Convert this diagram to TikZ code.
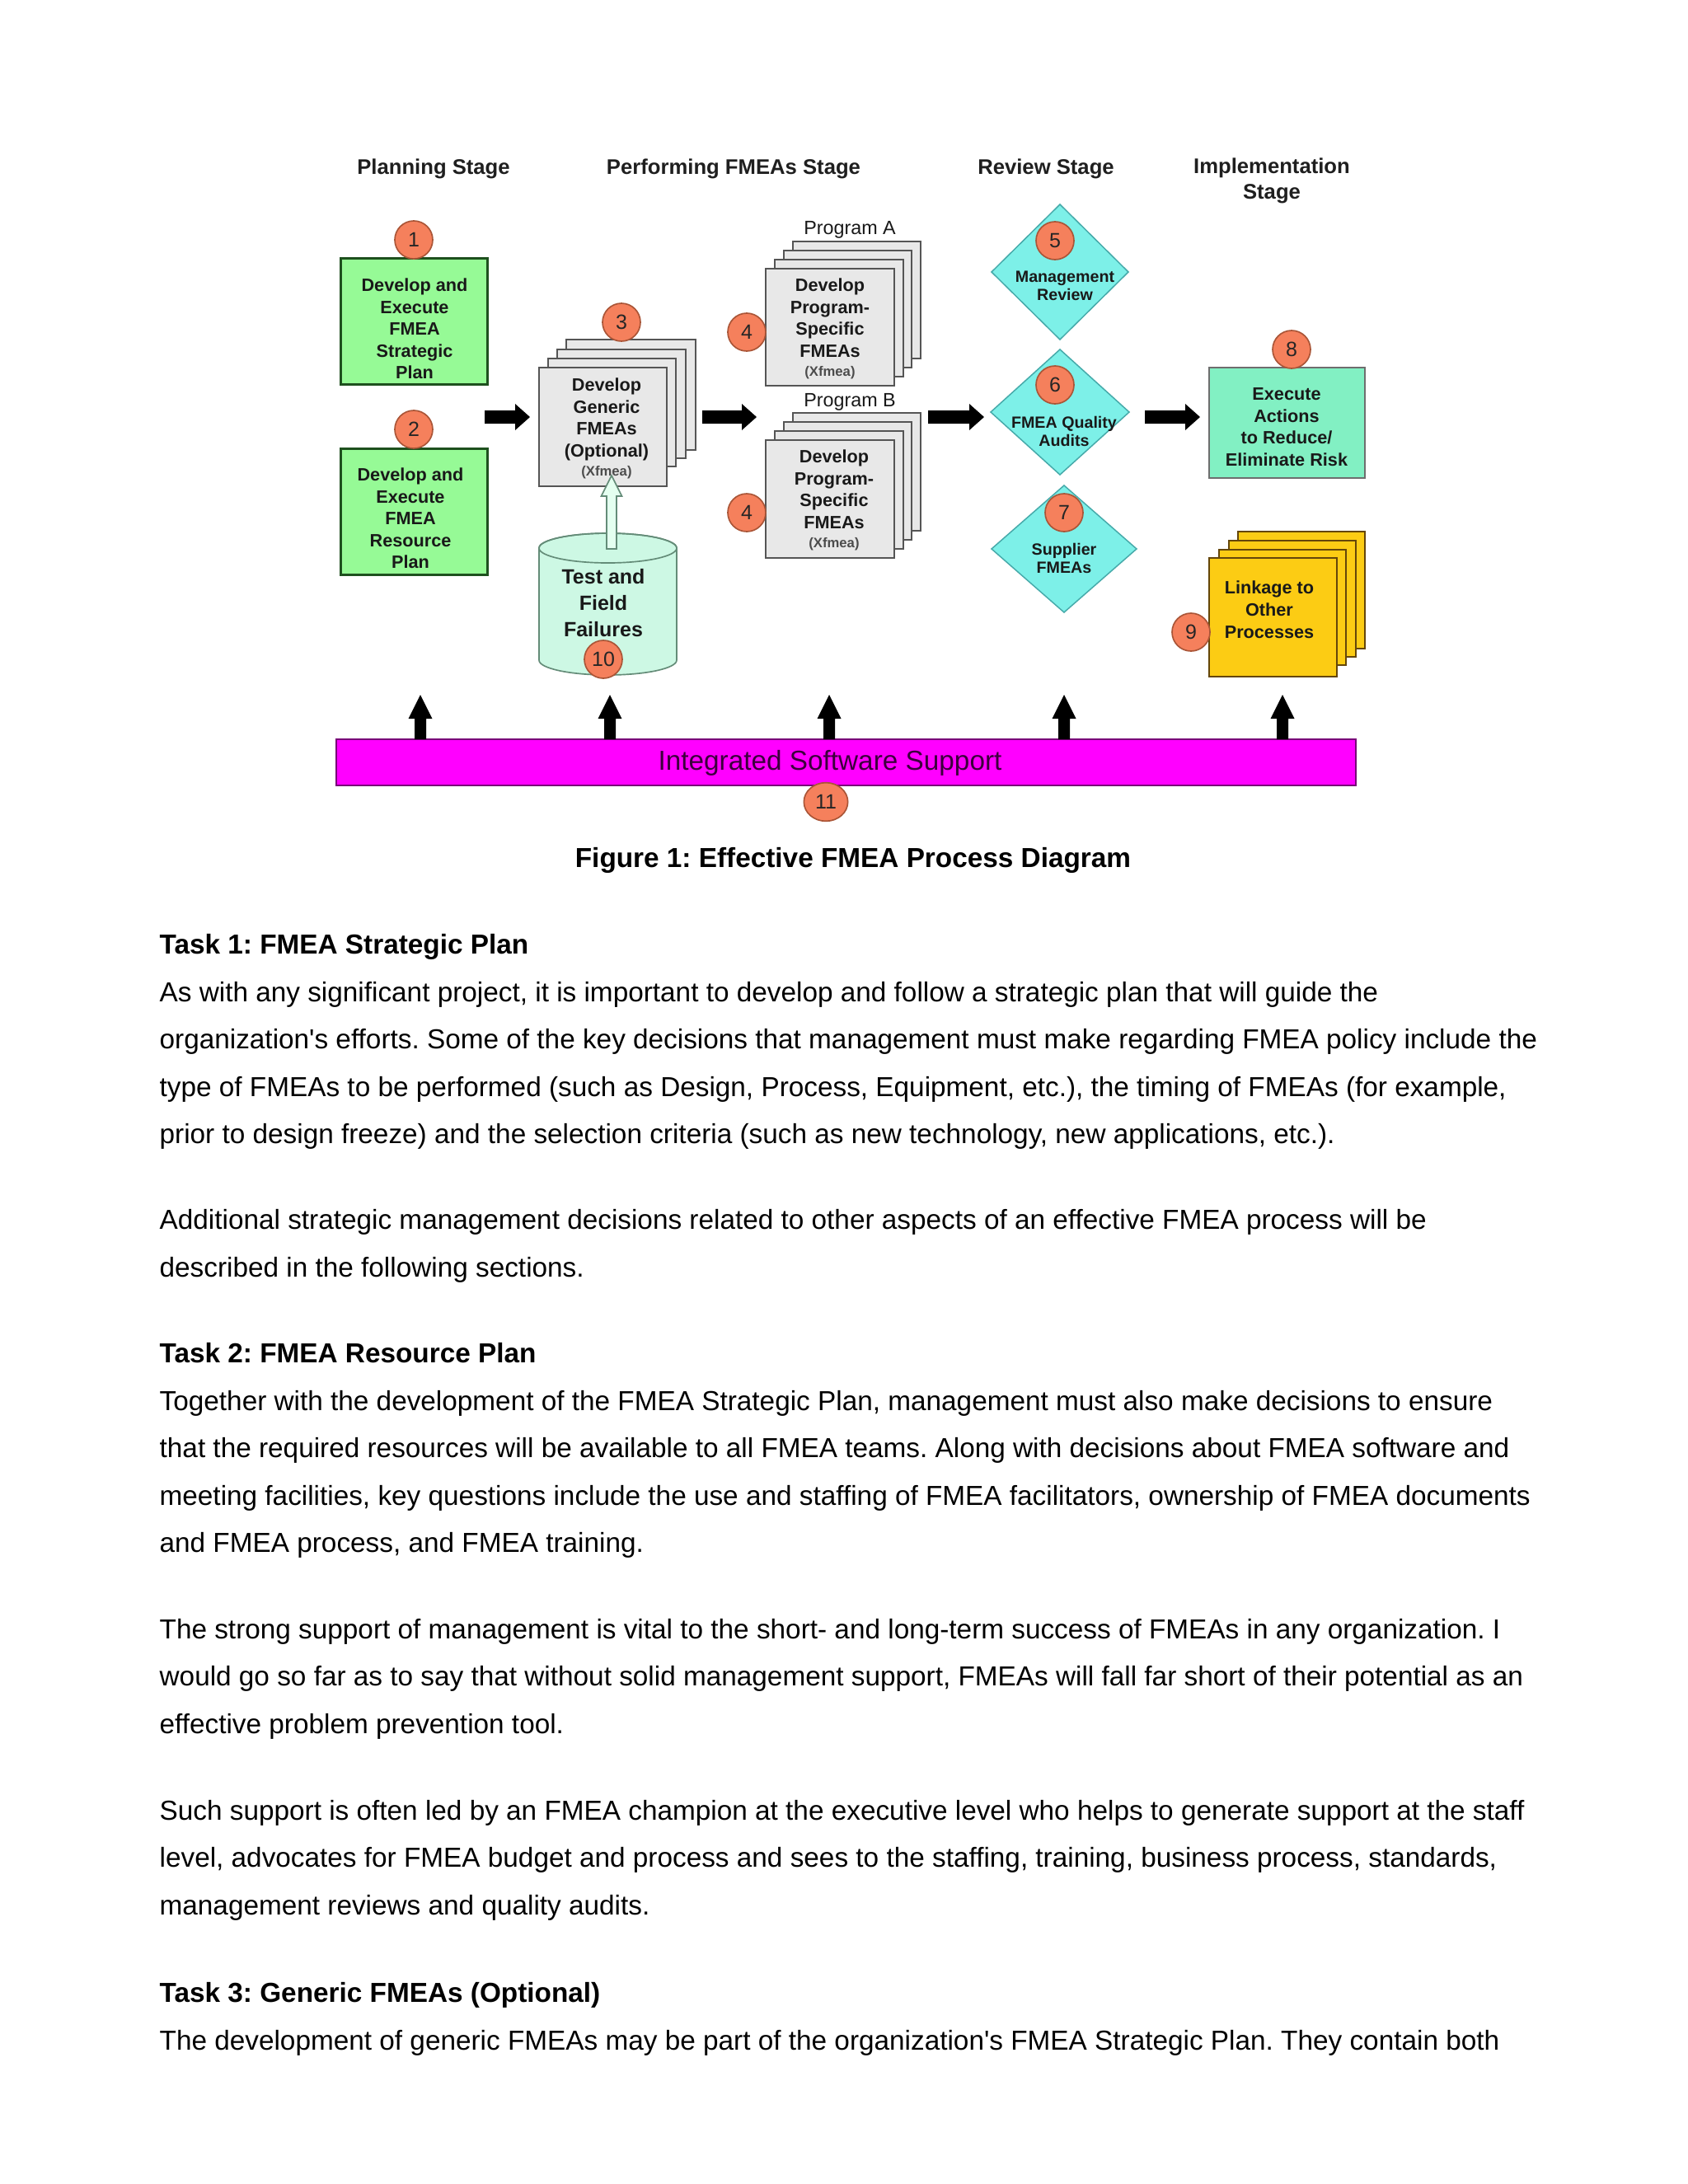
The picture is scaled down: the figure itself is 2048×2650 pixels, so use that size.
\documentclass[tikz,border=0pt]{standalone}
\usepackage{fontspec}
\setmainfont{Liberation Sans}[Ligatures=TeXOff]
\usetikzlibrary{calc,shapes.geometric}
\frenchspacing
\definecolor{gfill}{RGB}{150,250,150}
\definecolor{gdraw}{RGB}{30,80,30}
\definecolor{sfill}{RGB}{232,232,232}
\definecolor{sdraw}{RGB}{85,85,85}
\definecolor{cfill}{RGB}{245,128,92}
\definecolor{cdraw}{RGB}{170,85,55}
\definecolor{dfill}{RGB}{125,240,232}
\definecolor{ddraw}{RGB}{70,170,170}
\definecolor{mfill}{RGB}{130,240,195}
\definecolor{mdraw}{RGB}{110,110,110}
\definecolor{cylfill}{RGB}{205,248,228}
\definecolor{cyldraw}{RGB}{100,140,120}
\definecolor{hafill}{RGB}{228,255,240}
\definecolor{yfill}{RGB}{252,204,20}
\definecolor{ydraw}{RGB}{100,70,10}
\definecolor{barfill}{RGB}{255,0,255}
\definecolor{bardraw}{RGB}{120,0,120}
\definecolor{bartext}{RGB}{60,0,60}
\newcommand\fmeaHarrow[2]{\fill[black] ($(#1)+(0,-8)$) -- ($(#2)+(-18,-8)$) -- ($(#2)+(-18,-16)$) -- (#2) -- ($(#2)+(-18,16)$) -- ($(#2)+(-18,8)$) -- ($(#1)+(0,8)$) -- cycle;}
\newcommand\fmeaUarrow[2]{\fill[black] ($(#1)+(-7,0)$) -- ($(#2)+(-7,29)$) -- ($(#2)+(-14.5,29)$) -- (#2) -- ($(#2)+(14.5,29)$) -- ($(#2)+(7,29)$) -- ($(#1)+(7,0)$) -- cycle;}
\newcommand\fmeaHollow[2]{\filldraw[fill=hafill, draw=cyldraw, line width=0.5pt] ($(#1)+(-6,0)$) -- ($(#2)+(-6,25)$) -- ($(#2)+(-12.5,25)$) -- (#2) -- ($(#2)+(12.5,25)$) -- ($(#2)+(6,25)$) -- ($(#1)+(6,0)$) -- cycle;}
\newcommand\fmXf{\bfseries\fontsize{5}{6}\selectfont\color{black!70}}
\begin{document}
\begin{tikzpicture}[x=0.3pt,y=-0.3pt,
  fmGBox/.style={draw=gdraw, fill=gfill, line width=0.9pt, inner sep=0, outer sep=0, minimum width=53.4pt, minimum height=45.9pt},
  fmStk/.style={draw=sdraw, fill=sfill, line width=0.6pt},
  fmYel/.style={draw=ydraw, fill=yfill, line width=0.6pt},
  fmNum/.style={circle, draw=cdraw, fill=cfill, line width=0.5pt, minimum size=13.8pt, inner sep=0, font=\fontsize{7.5}{8}\selectfont, text=black!85},
  fmBoxT/.style={align=center, inner sep=0, font=\bfseries\fontsize{6.5}{7.95}\selectfont, text=black!90},
  fmDiaT/.style={align=center, inner sep=0, font=\bfseries\fontsize{5.9}{6.6}\selectfont, text=black!90},
  fmDia/.style={fill=dfill, draw=ddraw, line width=0.45pt},
  fmHdr/.style={align=center, inner sep=0, font=\bfseries\fontsize{7.7}{9.3}\selectfont, text=black!88},
  fmProg/.style={inner sep=0, font=\fontsize{7}{8}\selectfont, text=black!90},
  fmBody/.style={anchor=base west, inner sep=0, font=\fontsize{10}{12}\selectfont},
  fmHead/.style={anchor=base west, inner sep=0, font=\bfseries\fontsize{10}{12}\selectfont}
]
\useasboundingbox (0,0) rectangle (2048,2650);
\fill[white] (0,0) rectangle (2048,2650);

% stage headers
\node[fmHdr] (hP) at (526,205) {Planning Stage};
\node[fmHdr] (hF) at (890,205) {Performing FMEAs Stage};
\node[fmHdr] (hR) at (1269,205) {Review Stage};
\node[fmHdr] (hI) at (1543,219) {Implementation\\Stage};

% planning boxes
\node[fmGBox] (b1) at (502,389.5) {};
\node[fmBoxT] (t1) at (503,399) {Develop and\\Execute\\FMEA\\Strategic\\Plan};
\node[fmNum] (c1) at (502,291) {1};
\node[fmGBox] (b2) at (502,620.5) {};
\node[fmBoxT] (t2) at (498,629) {Develop and\\Execute\\FMEA\\Resource\\Plan};
\node[fmNum] (c2) at (502,521) {2};

% generic FMEA stack
\filldraw[fmStk] (687,412) rectangle (844,546);
\filldraw[fmStk] (676,424) rectangle (832,556);
\filldraw[fmStk] (665,435) rectangle (820,566);
\node[fmStk, minimum width=46.5pt, minimum height=43.2pt, inner sep=0] (s3) at (731.5,518) {};
\node[fmBoxT] (t3) at (736,520) {Develop\\Generic\\FMEAs\\(Optional)\\[-1pt]{\fmXf (Xfmea)}};
\node[fmNum] (c3) at (754,391) {3};

% program A stack
\node[fmProg] (pA) at (1031,279) {Program A};
\filldraw[fmStk] (962,293) rectangle (1117,435);
\filldraw[fmStk] (951,304) rectangle (1106,446);
\filldraw[fmStk] (940,315) rectangle (1096,457);
\node[fmStk, minimum width=46.8pt, minimum height=42.6pt, inner sep=0] (sA) at (1007,397) {};
\node[fmBoxT] (tA) at (1007,399) {Develop\\Program-\\Specific\\FMEAs\\[-1pt]{\fmXf (Xfmea)}};
\node[fmNum] (c4a) at (906,403) {4};

% program B stack
\node[fmProg] (pB) at (1031,488) {Program B};
\filldraw[fmStk] (962,501) rectangle (1117,644);
\filldraw[fmStk] (951,512) rectangle (1106,655);
\filldraw[fmStk] (940,523) rectangle (1096,666);
\node[fmStk, minimum width=46.8pt, minimum height=42.9pt, inner sep=0] (sB) at (1007,605.5) {};
\node[fmBoxT] (tB) at (1012,607) {Develop\\Program-\\Specific\\FMEAs\\[-1pt]{\fmXf (Xfmea)}};
\node[fmNum] (c4b) at (906,622) {4};

% cylinder
\coordinate (cyl) at (737.5,733);
\filldraw[fill=cylfill, draw=cyldraw, line width=0.5pt] (654,665) -- (654,801) arc[start angle=180, end angle=360, x radius=25.05pt, y radius=5.4pt] -- (821,665) arc[start angle=0, end angle=180, x radius=25.05pt, y radius=5.4pt] -- cycle;
\draw[cyldraw, line width=0.5pt] (737.5,665) ellipse [x radius=25.05pt, y radius=5.4pt];
\node[align=center, inner sep=0, font=\bfseries\fontsize{7.5}{9.6}\selectfont, text=black!90] (t10) at (732,732) {Test and\\Field\\Failures};
\coordinate (ha1) at (742,666);
\coordinate (ha2) at (742,577);
\fmeaHollow{ha1}{ha2}
\node[fmNum] (c10) at (732,800) {10};

% review diamonds
\coordinate (d5) at (1286,330);
\filldraw[fmDia] ($(d5)+(0,-82)$) -- ($(d5)+(83,0)$) -- ($(d5)+(0,82)$) -- ($(d5)+(-83,0)$) -- cycle;
\node[fmDiaT] (d5t) at (1292,347) {Management\\Review};
\node[fmNum] (c5) at (1280,292) {5};
\coordinate (d6) at (1286,500);
\filldraw[fmDia] ($(d6)+(0,-76)$) -- ($(d6)+(84,0)$) -- ($(d6)+(0,76)$) -- ($(d6)+(-84,0)$) -- cycle;
\node[fmDiaT] (d6t) at (1291,523) {FMEA Quality\\Audits};
\node[fmNum] (c6) at (1280,467) {6};
\coordinate (d7) at (1291,666);
\filldraw[fmDia] ($(d7)+(0,-77)$) -- ($(d7)+(88,0)$) -- ($(d7)+(0,77)$) -- ($(d7)+(-88,0)$) -- cycle;
\node[fmDiaT] (d7t) at (1291,677) {Supplier\\FMEAs};
\node[fmNum] (c7) at (1291,622) {7};

% implementation
\node[draw=mdraw, fill=mfill, line width=0.6pt, inner sep=0, minimum width=56.7pt, minimum height=40.2pt] (b8) at (1561.5,513) {};
\node[fmBoxT] (t8) at (1561,518) {Execute\\Actions\\to Reduce/\\Eliminate Risk};
\node[fmNum] (c8) at (1567,424) {8};
\filldraw[fmYel] (1502,645) rectangle (1656,787);
\filldraw[fmYel] (1491,656) rectangle (1645,797);
\filldraw[fmYel] (1479,667) rectangle (1633,807);
\node[fmYel, minimum width=46.5pt, minimum height=43.2pt, inner sep=0] (s9) at (1544.5,749) {};
\node[fmBoxT, font=\bfseries\fontsize{6.5}{8.1}\selectfont] (t9) at (1540,740) {Linkage to\\Other\\Processes};
\node[fmNum] (c9) at (1445,767) {9};

% flow arrows
\coordinate (h1s) at (588,506); \coordinate (h1e) at (643,506);
\coordinate (h2s) at (852,506); \coordinate (h2e) at (918,506);
\coordinate (h3s) at (1126,506); \coordinate (h3e) at (1194,506);
\coordinate (h4s) at (1389,506); \coordinate (h4e) at (1456,506);
\fmeaHarrow{h1s}{h1e}
\fmeaHarrow{h2s}{h2e}
\fmeaHarrow{h3s}{h3e}
\fmeaHarrow{h4s}{h4e}

% software support bar
\node[draw=bardraw, fill=barfill, line width=0.7pt, inner sep=0, minimum width=371.1pt, minimum height=16.8pt] (bar) at (1026.5,925) {};
\node[inner sep=0, font=\fontsize{10}{12}\selectfont, text=bartext] (bart) at (1007,926) {Integrated Software Support};
\foreach \i/\x in {1/510,2/740,3/1006,4/1291,5/1556}{
  \coordinate (u\i b) at (\x,897);
  \coordinate (u\i t) at (\x,843);
  \fmeaUarrow{u\i b}{u\i t}
}
\node[ellipse, draw=cdraw, fill=cfill, line width=0.5pt, minimum width=16pt, minimum height=14pt, inner sep=0, font=\fontsize{7.5}{8}\selectfont, text=black!85] (c11) at (1002,973) {11};

% caption and body text
\node[anchor=base, inner sep=0, font=\bfseries\fontsize{10}{12}\selectfont] (cap) at (1035,1052) {Figure 1: Effective FMEA Process Diagram};
\node[fmHead] (k1) at (193,1157) {Task 1: FMEA Strategic Plan};
\node[fmBody] (l1) at (193,1215) {As with any significant project, it is important to develop and follow a strategic plan that will guide the};
\node[fmBody] (l2) at (193,1272) {organization's efforts. Some of the key decisions that management must make regarding FMEA policy include the};
\node[fmBody] (l3) at (193,1330) {type of FMEAs to be performed (such as Design, Process, Equipment, etc.), the timing of FMEAs (for example,};
\node[fmBody] (l4) at (193,1387) {prior to design freeze) and the selection criteria (such as new technology, new applications, etc.).};
\node[fmBody] (l5) at (193,1491) {Additional strategic management decisions related to other aspects of an effective FMEA process will be};
\node[fmBody] (l6) at (193,1549) {described in the following sections.};
\node[fmHead] (k2) at (193,1653) {Task 2: FMEA Resource Plan};
\node[fmBody] (l7) at (193,1711) {Together with the development of the FMEA Strategic Plan, management must also make decisions to ensure};
\node[fmBody] (l8) at (193,1768) {that the required resources will be available to all FMEA teams. Along with decisions about FMEA software and};
\node[fmBody] (l9) at (193,1826) {meeting facilities, key questions include the use and staffing of FMEA facilitators, ownership of FMEA documents};
\node[fmBody] (l10) at (193,1883) {and FMEA process, and FMEA training.};
\node[fmBody] (l11) at (193,1988) {The strong support of management is vital to the short- and long-term success of FMEAs in any organization. I};
\node[fmBody] (l12) at (193,2045) {would go so far as to say that without solid management support, FMEAs will fall far short of their potential as an};
\node[fmBody] (l13) at (193,2103) {effective problem prevention tool.};
\node[fmBody] (l14) at (193,2208) {Such support is often led by an FMEA champion at the executive level who helps to generate support at the staff};
\node[fmBody] (l15) at (193,2265) {level, advocates for FMEA budget and process and sees to the staffing, training, business process, standards,};
\node[fmBody] (l16) at (193,2323) {management reviews and quality audits.};
\node[fmHead] (k3) at (193,2429) {Task 3: Generic FMEAs (Optional)};
\node[fmBody] (l17) at (193,2487) {The development of generic FMEAs may be part of the organization's FMEA Strategic Plan. They contain both};
\end{tikzpicture}
\end{document}
